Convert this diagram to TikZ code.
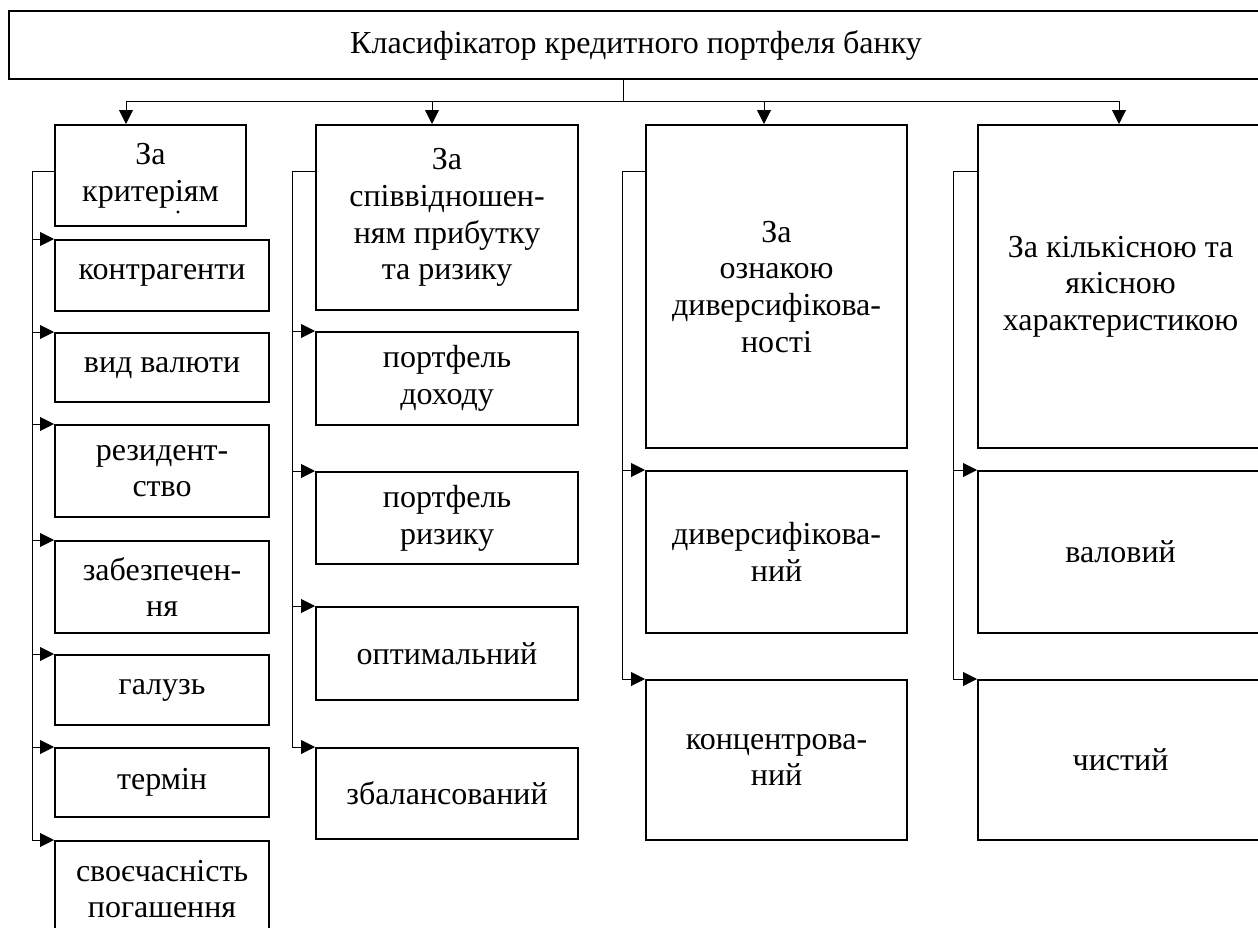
\documentclass[tikz,border=0pt]{standalone}
\usepackage{fontspec}
\setmainfont{Liberation Serif}
\usetikzlibrary{arrows.meta}
\newcommand\bx[6]{\node[box, minimum width={(#4-#2)*0.75pt}, minimum height={(#5-#3)*0.75pt}] (#1) at (#2,#3) {#6};}
\begin{document}
\begin{tikzpicture}[x=0.75pt,y=-0.75pt,
  txt/.style={font=\fontsize{24}{27.5}\selectfont},
  box/.style={draw, line width=1.6pt, inner sep=0pt, align=center, anchor=north west, txt},
  link/.style={line width=0.75pt},
  arr/.style={link, -{Triangle[length=10.5pt,width=10.5pt]}}]
\useasboundingbox (0,0) rectangle (1258,928);
\clip (0,0) rectangle (1258,928);
% top
\bx{top}{8}{10}{1262}{78}{Класифікатор кредитного портфеля банку}
% headers
\bx{h1}{54}{124}{245}{225}{За\\критеріям}
\fill (178,212) circle (1.6);
\bx{h2}{315}{124}{577}{309}{За\\співвідношен-\\ням прибутку\\та ризику}
\bx{h3}{645}{124}{906}{447}{За\\ознакою\\диверсифікова-\\ності}
\bx{h4}{977}{124}{1262}{447}{За кількісною та\\якісною\\характеристикою}
% column 1
\bx{c11}{54}{239}{268}{310}{контрагенти}
\bx{c12}{54}{332}{268}{401}{вид валюти}
\bx{c13}{54}{424}{268}{516}{резидент-\\ство}
\bx{c14}{54}{540}{268}{632}{забезпечен-\\ня}
\bx{c15}{54}{654}{268}{724}{галузь}
\bx{c16}{54}{747}{268}{816}{термін}
\bx{c17}{54}{840}{268}{936}{своєчасність\\погашення}
% column 2
\bx{c21}{315}{331}{577}{424}{портфель\\доходу}
\bx{c22}{315}{471}{577}{563}{портфель\\ризику}
\bx{c23}{315}{606}{577}{699}{оптимальний}
\bx{c24}{315}{747}{577}{838}{збалансований}
% column 3
\bx{c31}{645}{470}{906}{632}{диверсифікова-\\ний}
\bx{c32}{645}{679}{906}{839}{концентрова-\\ний}
% column 4
\bx{c41}{977}{470}{1262}{632}{валовий}
\bx{c42}{977}{679}{1262}{839}{чистий}
% top connectors
\coordinate (stem) at (623,101);
\coordinate (a1) at (126,101);
\coordinate (a2) at (432,101);
\coordinate (a3) at (764,101);
\coordinate (a4) at (1119,101);
\draw[link] (top.south -| stem) -- (stem);
\draw[link] (a1) -- (a4);
\draw[arr] (a1) -- (a1 |- h1.north);
\draw[arr] (a2) -- (a2 |- h2.north);
\draw[arr] (a3) -- (a3 |- h3.north);
\draw[arr] (a4) -- (a4 |- h4.north);
% buses
\coordinate (b1) at (32,171);
\coordinate (b2) at (292,171);
\coordinate (b3) at (622,171);
\coordinate (b4) at (953,171);
\draw[arr] (h1.west |- b1) -- (b1) |- (c17.north west);
\foreach \c in {c11,c12,c13,c14,c15,c16}
  \draw[arr] (b1 |- \c.north west) -- (\c.north west);
\draw[arr] (h2.west |- b2) -- (b2) |- (c24.north west);
\foreach \c in {c21,c22,c23}
  \draw[arr] (b2 |- \c.north west) -- (\c.north west);
\draw[arr] (h3.west |- b3) -- (b3) |- (c32.north west);
\draw[arr] (b3 |- c31.north west) -- (c31.north west);
\draw[arr] (h4.west |- b4) -- (b4) |- (c42.north west);
\draw[arr] (b4 |- c41.north west) -- (c41.north west);
\end{tikzpicture}
\end{document}
